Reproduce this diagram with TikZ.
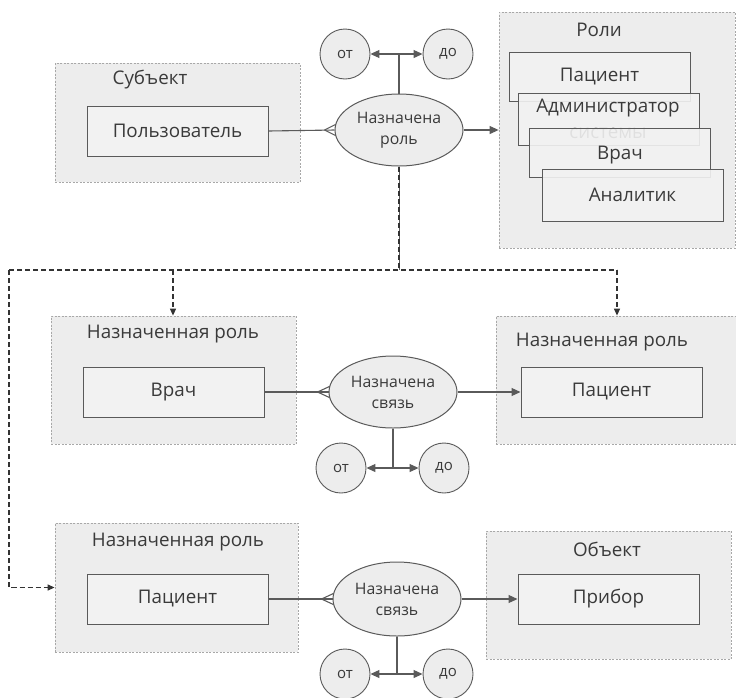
\documentclass[tikz,border=0pt]{standalone}
\usepackage{fontspec}
\setmainfont{Open Sans}
\usetikzlibrary{shapes.geometric,arrows.meta,calc}
\pgfdeclarelayer{bg}
\pgfdeclarelayer{mid}
\pgfsetlayers{bg,mid,main}
\definecolor{grpfill}{HTML}{EDEDED}
\definecolor{grpline}{HTML}{A8A8A8}
\definecolor{boxfill}{HTML}{F2F2F2}
\definecolor{boxline}{HTML}{5A5A5A}
\definecolor{txt}{HTML}{3A3A3A}
\definecolor{dline}{HTML}{333333}
\tikzset{
  grp/.style={rectangle, draw=grpline, fill=grpfill, dash pattern=on 2pt off 1.5pt, line width=0.8pt, inner sep=0pt},
  box/.style={rectangle, draw=boxline, fill=boxfill, line width=1pt, minimum width=181pt, minimum height=50pt, inner sep=0pt, font=\fontsize{18.8}{20}\selectfont, text=txt},
  rbox/.style={box, fill opacity=0.9, text opacity=1},
  rel/.style={ellipse, draw=boxline, fill=grpfill, line width=1pt, minimum width=128pt, minimum height=72pt, inner sep=0pt, align=center, font=\fontsize{15.8}{21}\selectfont, text=txt},
  tm/.style={circle, draw=boxline, fill=grpfill, line width=0.9pt, minimum size=50pt, inner sep=0pt, font=\fontsize{15}{16}\selectfont, text=txt},
  ttl/.style={inner sep=0pt, font=\fontsize{18.8}{20}\selectfont, text=txt},
  con/.style={draw=boxline, line width=1.1pt},
  arr/.style={con, -{Triangle[length=9pt,width=8pt]}},
  dsh/.style={draw=dline, line width=1.2pt, dash pattern=on 5pt off 3pt},
  darr/.style={dsh, -{Triangle[length=7pt,width=6pt]}}
}
\begin{document}
\begin{tikzpicture}[x=1pt,y=-1pt]
\useasboundingbox (0,0) rectangle (736,697);
% groups
\begin{pgfonlayer}{bg}
\node[grp, minimum width=245pt, minimum height=119pt] (subj) at (177.5,122.5) {};
\node[grp, minimum width=236pt, minimum height=236pt] (roles) at (617,130) {};
\node[grp, minimum width=245pt, minimum height=128pt] (ar1) at (173.5,380) {};
\node[grp, minimum width=240pt, minimum height=128pt] (ar2) at (616,380) {};
\node[grp, minimum width=243pt, minimum height=129pt] (ar3) at (176.5,587.5) {};
\node[grp, minimum width=245pt, minimum height=128pt] (obj) at (608.5,595) {};
\end{pgfonlayer}
% titles
\node[ttl] (tsubj) at (150,80) {Субъект};
\node[ttl] (troles) at (599,30) {Роли};
\node[ttl] (tar1) at (173,334) {Назначенная роль};
\node[ttl] (tar2) at (602,342) {Назначенная роль};
\node[ttl] (tar3) at (178,542) {Назначенная роль};
\node[ttl] (tobj) at (607,549) {Объект};
% boxes
\node[box] (user) at (177.5,131) {Пользователь};
\node[rbox, minimum height=49pt] (r1) at (599.5,76.5) {Пациент};
\node[rbox, minimum height=52pt] (r2) at (608.5,119) {};
\node[inner sep=0pt, align=center, font=\fontsize{18.8}{26}\selectfont, text=txt] (r2t) at (608,119) {Администратор\\системы};
\node[rbox, minimum height=49pt] (r3) at (619.5,152.5) {};
\node[inner sep=0pt, font=\fontsize{18.8}{20}\selectfont, text=txt] (r3t) at (620,155) {Врач};
\node[rbox, minimum height=52pt] (r4) at (632.5,195) {Аналитик};
\node[box] (b1) at (173.5,392) {Врач};
\node[box] (b2) at (611.5,392) {Пациент};
\node[box] (b3) at (177.5,599) {Пациент};
\node[box] (b4) at (608.5,599) {Прибор};
% relations
\node[rel] (e1) at (399,130) {Назначена\\роль};
\node[rel] (e2) at (393,392) {Назначена\\связь};
\node[rel, minimum height=74pt] (e3) at (397,599) {Назначена\\связь};
% time circles
\node[tm] (ot1) at (345,54) {от};
\node[tm] (do1) at (448,54) {до};
\node[tm] (ot2) at (341,468) {от};
\node[tm] (do2) at (444,468) {до};
\node[tm] (ot3) at (345,674) {от};
\node[tm] (do3) at (448,674) {до};
% connectors
\coordinate (j1) at (e1.north |- ot1);
\coordinate (j2) at (e2.south |- ot2);
\coordinate (j3) at (e3.south |- ot3);
\coordinate (d0) at (399,270);
\coordinate (dL) at (9,270);
\coordinate (dR) at (617,270);
\coordinate (dA) at (173,270);
\coordinate (c1) at ($(e1.west)+(-10,0)$);
\coordinate (c2) at ($(e2.west)+(-11,0)$);
\coordinate (c3) at ($(e3.west)+(-11,0)$);
\begin{pgfonlayer}{mid}
\draw[con] (e1.north) -- (j1);
\draw[arr] (j1) -- (ot1);
\draw[arr] (j1) -- (do1);
\draw[con] (user.east) -- (e1.west);
\draw[con] (c1) -- ($(e1.west)+(2,-6)$);
\draw[con] (c1) -- ($(e1.west)+(2,6)$);
\draw[arr] (e1.east) -- (roles.west);
\draw[con, line width=0.8pt] (e1.south) -- (d0);
\draw[dsh, line width=1.6pt] (e1.south) -- (d0);
\draw[dsh] (dL) -- (dR);
\draw[darr] (dA) -- (dA |- ar1.north);
\draw[darr] (dR) -- (dR |- ar2.north);
\draw[darr] (dL) |- (ar3.west);
\draw[con] (e2.south) -- (j2);
\draw[arr] (j2) -- (ot2);
\draw[arr] (j2) -- (do2);
\draw[con] (b1.east) -- (e2.west);
\draw[con] (c2) -- ($(e2.west)+(2,-6)$);
\draw[con] (c2) -- ($(e2.west)+(2,6)$);
\draw[arr] (e2.east) -- (b2.west);
\draw[con] (e3.south) -- (j3);
\draw[arr] (j3) -- (ot3);
\draw[arr] (j3) -- (do3);
\draw[con] (b3.east) -- (e3.west);
\draw[con] (c3) -- ($(e3.west)+(2,-6)$);
\draw[con] (c3) -- ($(e3.west)+(2,6)$);
\draw[arr] (e3.east) -- (b4.west);
\end{pgfonlayer}
\end{tikzpicture}
\end{document}
